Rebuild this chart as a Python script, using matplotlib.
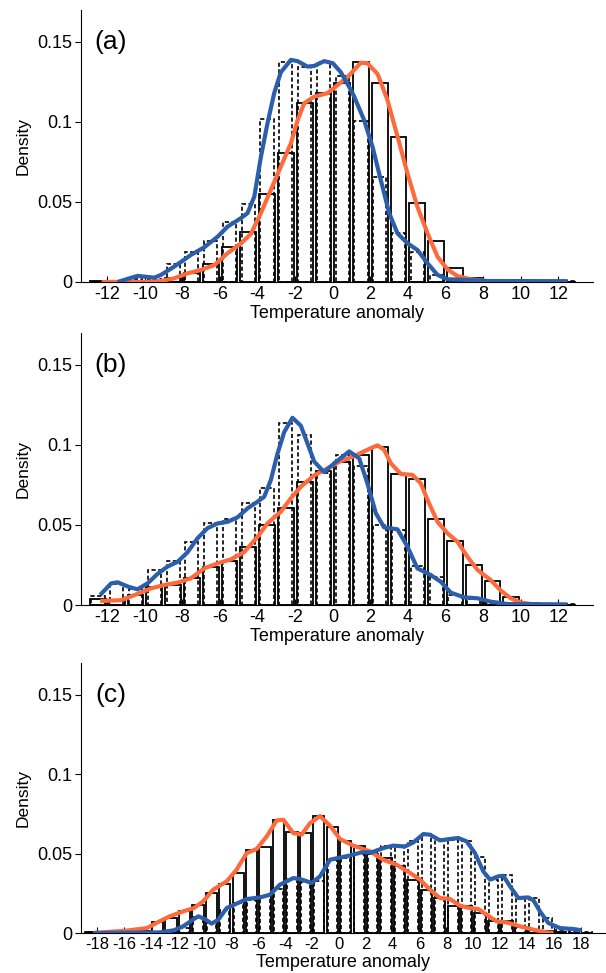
import numpy as np
import matplotlib.pyplot as plt

plt.rcParams['font.family'] = ['Liberation Sans', 'DejaVu Sans']
plt.rcParams['axes.unicode_minus'] = False

BLUE = "#2b5eab"
ORANGE = "#ff6a3c"

# ---- panel (a) ----
a_bins = np.arange(-12.5, 13, 1.0)
a_solid = [0.0005, 0, 0, 0.0005, 0.0023, 0.0058, 0.011, 0.0217, 0.031, 0.055, 0.0804, 0.1117, 0.118,
           0.1245, 0.1377, 0.1246, 0.0904, 0.0496, 0.0258, 0.009, 0.0023, 0.0005, 0, 0, 0, 0]
a_dashed = [0, 0.0005, 0.002, 0.002, 0.0113, 0.0185, 0.0258, 0.0373, 0.0485, 0.1017, 0.1377, 0.1346, 0.1377,
            0.129, 0.1008, 0.0654, 0.0304, 0.0185, 0.0044, 0.0017, 0.0005, 0.0005, 0.0005, 0.0005, 0.0005, 0.0005]
a_blue_x = [-11.45, -10.4, -9.5, -9.15, -8.44, -7.55, -6.84, -6.13, -5.6, -4.9, -4.54, -4.18, -3.83, -3.48,
            -3.12, -2.77, -2.23, -1.88, -1.35, -0.99, -0.46, 0.0, 0.43, 0.96, 1.13, 1.67, 2.11, 2.55, 3.0,
            3.44, 3.97, 4.5, 5.04, 5.57, 6.1, 7.16, 8.2, 12.5]
a_blue_y = [0, 0.0038, 0.0027, 0.0044, 0.0096, 0.0169, 0.0217, 0.0283, 0.0346, 0.0398, 0.043, 0.0533, 0.078,
            0.099, 0.118, 0.131, 0.1388, 0.138, 0.1346, 0.135, 0.138, 0.1367, 0.131, 0.12, 0.116, 0.101,
            0.0846, 0.0638, 0.043, 0.0304, 0.0242, 0.02, 0.0117, 0.0044, 0.0017, 0.0013, 0.0006, 0.0005]
a_orange_x = [-12.3, -10.0, -9.15, -8.44, -7.73, -7.02, -6.3, -5.6, -4.9, -4.36, -3.83, -3.3, -2.77, -2.23,
              -1.88, -1.52, -0.99, -0.28, 0.25, 0.78, 1.49, 1.84, 2.38, 2.9, 3.44, 3.97, 4.5, 5.04, 5.57,
              6.1, 6.63, 7.34, 8.2, 9.1]
a_orange_y = [0, 0, 0.0006, 0.0023, 0.0054, 0.0075, 0.0106, 0.018, 0.024, 0.030, 0.043, 0.0575, 0.072,
              0.0867, 0.101, 0.1117, 0.1158, 0.118, 0.123, 0.128, 0.137, 0.1367, 0.130, 0.114, 0.091, 0.068,
              0.047, 0.0304, 0.0158, 0.0079, 0.0037, 0.0017, 0.0006, 0]

# ---- panel (b) ----
b_bins = np.arange(-12.5, 13, 1.0)
b_solid = [0.0035, 0.003, 0.006, 0.0115, 0.0125, 0.017, 0.024, 0.0277, 0.0365, 0.05, 0.0608, 0.077, 0.0835,
           0.0896, 0.094, 0.099, 0.0817, 0.079, 0.0538, 0.040, 0.025, 0.015, 0.0048, 0.001, 0, 0]
b_dashed = [0.0056, 0.013, 0.0098, 0.0219, 0.0275, 0.0396, 0.0515, 0.054, 0.0635, 0.0733, 0.1135, 0.106,
            0.0825, 0.0937, 0.0869, 0.050, 0.047, 0.0244, 0.0173, 0.0063, 0.004, 0.0015, 0.0005, 0, 0, 0.0005]
b_blue_x = [-12.38, -11.8, -11.45, -10.9, -10.4, -9.86, -9.33, -8.8, -8.26, -7.73, -7.2, -6.67, -6.13, -5.6,
            -5.07, -4.54, -4.0, -3.65, -3.3, -2.94, -2.59, -2.15, -1.7, -1.35, -0.99, -0.46, 0.07, 0.87,
            1.4, 1.84, 2.29, 2.73, 3.44, 3.97, 4.5, 5.2, 5.74, 6.28, 6.99, 7.7, 8.4, 9.3, 12.48]
b_blue_y = [0.0063, 0.0135, 0.0142, 0.0115, 0.0098, 0.0135, 0.0194, 0.024, 0.027, 0.033, 0.0417, 0.048,
            0.051, 0.052, 0.0548, 0.0604, 0.0646, 0.0677, 0.078, 0.0948, 0.108, 0.117, 0.112, 0.101, 0.0896,
            0.083, 0.0885, 0.096, 0.0917, 0.076, 0.0573, 0.0485, 0.0473, 0.0365, 0.0229, 0.0188, 0.0146,
            0.0077, 0.0048, 0.0042, 0.0021, 0.0006, 0.0004]
b_orange_x = [-12.38, -11.28, -10.4, -9.68, -8.97, -8.26, -7.55, -6.84, -6.13, -5.43, -4.72, -4.0, -3.48,
              -2.77, -2.23, -1.7, -0.99, -0.28, 0.43, 1.13, 1.84, 2.38, 2.73, 3.09, 3.62, 4.24, 4.68, 5.12,
              5.57, 6.1, 6.63, 7.16, 7.7, 8.4, 8.94, 9.47, 10.0, 10.7, 11.06]
b_orange_y = [0.0025, 0.003, 0.0069, 0.0104, 0.0125, 0.014, 0.0167, 0.0229, 0.026, 0.0285, 0.033, 0.0427,
              0.051, 0.0583, 0.0667, 0.074, 0.081, 0.0855, 0.090, 0.093, 0.097, 0.0998, 0.097, 0.0885, 0.0819,
              0.0813, 0.076, 0.0635, 0.052, 0.0448, 0.0396, 0.0302, 0.0219, 0.0156, 0.009, 0.0042, 0.0015,
              0.0004, 0]

# ---- panel (c) ----
c_bins = np.arange(-18.5, 19, 1.0)
c_solid = [0.0006, 0.0004, 0.0008, 0.001, 0.0015, 0.0067, 0.0095, 0.014, 0.0174, 0.0252, 0.0309, 0.0375,
           0.0524, 0.054, 0.0711, 0.0638, 0.0632, 0.0734, 0.0665, 0.0577, 0.0545, 0.050, 0.047, 0.042, 0.0336,
           0.027, 0.022, 0.0168, 0.0168, 0.0126, 0.0073, 0.0073, 0.004, 0.002, 0.001, 0.0005, 0, 0]
c_dashed = [0.0005, 0, 0, 0, 0, 0.0005, 0.001, 0.003, 0.01, 0.007, 0.0147, 0.019, 0.021, 0.023, 0.0277,
            0.034, 0.032, 0.033, 0.046, 0.047, 0.050, 0.0514, 0.0545, 0.0545, 0.0577, 0.0623, 0.059, 0.0587,
            0.058, 0.048, 0.0336, 0.0367, 0.022, 0.022, 0.0094, 0.002, 0.001, 0.0008]
c_blue_x = [-18.3, -13.3, -12.3, -11.6, -10.8, -10.47, -9.98, -9.48, -8.98, -8.36, -7.62, -6.87, -5.88,
            -5.14, -4.4, -3.4, -2.9, -2.03, -1.41, -0.67, 0.07, 0.82, 1.69, 2.43, 3.3, 4.04, 4.91, 5.53,
            6.28, 6.77, 7.52, 8.26, 8.88, 9.5, 10.12, 10.74, 11.24, 11.86, 12.23, 12.73, 13.35, 14.09,
            14.47, 14.96, 15.58, 16.45, 17.44, 18.06]
c_blue_y = [0, 0.0004, 0.0017, 0.0042, 0.0088, 0.0105, 0.0088, 0.0059, 0.0084, 0.0157, 0.0185, 0.0214,
            0.0224, 0.0241, 0.0304, 0.0346, 0.034, 0.0315, 0.0357, 0.0461, 0.0475, 0.0488, 0.0508, 0.0508,
            0.0535, 0.055, 0.0545, 0.057, 0.0623, 0.0619, 0.0583, 0.0592, 0.0598, 0.0577, 0.0503, 0.0388,
            0.0336, 0.0357, 0.036, 0.0294, 0.022, 0.0224, 0.0206, 0.0136, 0.0063, 0.0031, 0.0025, 0.0017]
c_orange_x = [-18.3, -15.8, -14.3, -13.6, -12.6, -11.6, -10.8, -10.1, -9.36, -8.36, -7.62, -6.87, -6.13,
              -5.38, -4.64, -4.14, -3.4, -2.78, -2.16, -1.41, -0.67, 0.07, 1.07, 2.31, 3.3, 4.29, 5.29,
              6.03, 6.77, 7.52, 8.26, 9.0, 9.75, 10.37, 10.99, 11.74, 12.48, 13.47, 14.47, 15.46, 15.96]
c_orange_y = [0, 0.0015, 0.0031, 0.0063, 0.0105, 0.0136, 0.0157, 0.02, 0.0273, 0.0325, 0.0399, 0.0503,
              0.0529, 0.0608, 0.0709, 0.0713, 0.0629, 0.0619, 0.0692, 0.0736, 0.0676, 0.0592, 0.055, 0.0514,
              0.0461, 0.043, 0.0378, 0.0336, 0.0273, 0.022, 0.0214, 0.0172, 0.0157, 0.0151, 0.0115, 0.0073,
              0.0067, 0.0042, 0.0021, 0.0004, 0]

a_ticks = np.arange(-12, 13, 2)
c_ticks = np.arange(-18, 19, 2)


def draw_panel(ax, bins, solid, dashed, blue_x, blue_y, orange_x, orange_y, ticks, xlim, letter, tick_size):
    # solid-edged bars, then dashed-edged bars just inside them
    ax.bar(bins, solid, width=0.84, facecolor="white", edgecolor="black", linewidth=1.3, zorder=2)
    ax.bar(bins, dashed, width=0.7, facecolor="none", edgecolor="black", linewidth=1.2,
           linestyle=(0, (2.5, 1.5)), zorder=3)
    ax.plot(orange_x, orange_y, color=ORANGE, linewidth=3.0, zorder=4,
            solid_joinstyle="round", solid_capstyle="butt")
    ax.plot(blue_x, blue_y, color=BLUE, linewidth=3.0, zorder=5,
            solid_joinstyle="round", solid_capstyle="butt")

    ax.set_xlim(*xlim)
    ax.set_ylim(0, 0.17)
    ax.set_xticks(ticks)
    ax.set_xticklabels([str(t) for t in ticks])
    ax.set_yticks([0, 0.05, 0.1, 0.15])
    ax.set_yticklabels(["0", "0.05", "0.1", "0.15"])
    ax.spines["top"].set_visible(False)
    ax.spines["right"].set_visible(False)
    ax.tick_params(axis="x", direction="in", length=4, width=0.8, labelsize=tick_size, pad=3)
    ax.tick_params(axis="y", direction="out", length=4, width=0.8, labelsize=13, pad=2)
    ax.set_xlabel("Temperature anomaly", fontsize=13, labelpad=1)
    ax.set_ylabel("Density", fontsize=12.5, labelpad=5)
    ax.text(0.027, 0.882, letter, transform=ax.transAxes, fontsize=19, va="center", ha="left")


fig = plt.figure(figsize=(6.06, 9.73), dpi=100)
ax_a = fig.add_axes([0.1337, 0.7102, 0.845, 0.2796])
ax_b = fig.add_axes([0.1337, 0.3782, 0.845, 0.2796])
ax_c = fig.add_axes([0.1337, 0.0411, 0.8647, 0.2775])

draw_panel(ax_a, a_bins, a_solid, a_dashed, a_blue_x, a_blue_y, a_orange_x, a_orange_y,
           a_ticks, (-13.4, 13.85), "(a)", 13)
draw_panel(ax_b, b_bins, b_solid, b_dashed, b_blue_x, b_blue_y, b_orange_x, b_orange_y,
           a_ticks, (-13.4, 13.85), "(b)", 13)
draw_panel(ax_c, c_bins, c_solid, c_dashed, c_blue_x, c_blue_y, c_orange_x, c_orange_y,
           c_ticks, (-19.2, 19.8), "(c)", 12)

fig.savefig("out.png", dpi=100)
